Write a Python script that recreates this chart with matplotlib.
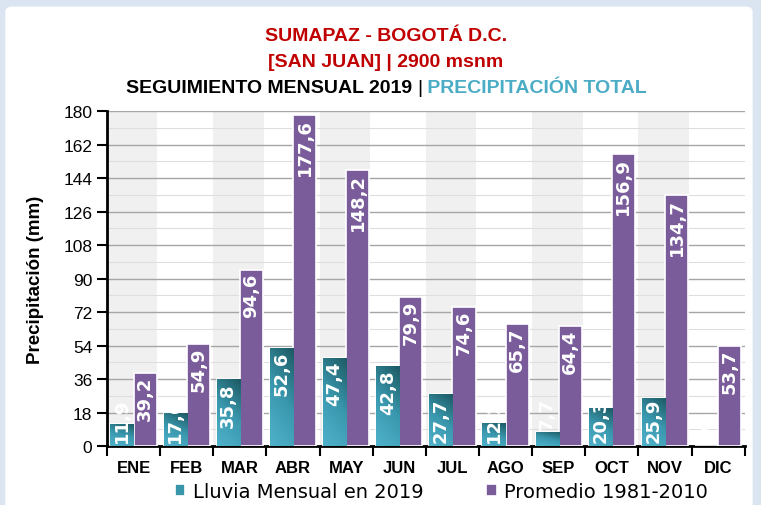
import matplotlib
matplotlib.use("Agg")
import matplotlib.pyplot as plt
import numpy as np
from matplotlib.patches import FancyBboxPatch
from matplotlib.colors import LinearSegmentedColormap

meses = ['ENE', 'FEB', 'MAR', 'ABR', 'MAY', 'JUN', 'JUL', 'AGO', 'SEP', 'OCT', 'NOV', 'DIC']
lluvia_2019 = [11.9, 17.6, 35.8, 52.6, 47.4, 42.8, 27.7, 12.2, 7.7, 20.3, 25.9, 0.0]
promedio = [39.2, 54.9, 94.6, 177.6, 148.2, 79.9, 74.6, 65.7, 64.4, 156.9, 134.7, 53.7]
yticks = [0, 18, 36, 54, 72, 90, 108, 126, 144, 162, 180]

TEAL = '#3a97ab'
PURPLE = '#7a5c9b'
TFONT = 'Liberation Sans'

fig = plt.figure(figsize=(7.61, 5.06), dpi=100)
fig.patch.set_facecolor('#dbe5f1')
fondo = FancyBboxPatch((0.007, -0.02), 0.982, 1.005, boxstyle='round,pad=0,rounding_size=0.01',
                       transform=fig.transFigure, facecolor='white', edgecolor='none', zorder=-5)
fig.patches.append(fondo)

ax = fig.add_axes([0.1406, 0.1166, 0.838, 0.662])
ax.set_facecolor('white')
x = np.arange(len(meses))
w = 0.435

# bandas grises alternas
for i in range(0, len(meses), 2):
    ax.axvspan(i - 0.5, i + 0.45, color='#f0f0f0', zorder=0, lw=0)

ax.set_yticks(yticks)
ax.set_yticks(np.arange(9, 180, 18), minor=True)
ax.tick_params(axis='y', which='minor', length=0)
ax.grid(axis='y', which='major', color='#a6a6a6', lw=1, zorder=1)
ax.grid(axis='y', which='minor', color='#dedede', lw=0.8, zorder=1)
ax.set_axisbelow(True)

b1 = ax.bar(x - w / 2, lluvia_2019, w, color=TEAL, edgecolor='white', lw=1.2, zorder=3,
            label='Lluvia Mensual en 2019')
b2 = ax.bar(x + w / 2, promedio, w, color=PURPLE, edgecolor='white', lw=1.2, zorder=3,
            label='Promedio 1981-2010')

# degradado diagonal en barras de lluvia (oscuro arriba-derecha)
cmap = LinearSegmentedColormap.from_list('teal', ['#1d5a64', '#3a98ae', '#4fb2ca'])
gy, gx = np.mgrid[0:1:64j, 0:1:16j]
grad = 0.75 * gy + 0.25 * (1 - gx)
for r in b1:
    if r.get_height() <= 0:
        continue
    x0, y0 = r.get_x(), r.get_y()
    im = ax.imshow(grad, cmap=cmap, aspect='auto', zorder=3.5,
                   extent=[x0, x0 + r.get_width(), y0, y0 + r.get_height()], origin='upper')
    im.set_clip_path(r)
ax.set_aspect('auto')
ax.set_xlim(-0.5, len(meses) - 0.5)
ax.set_ylim(0, 180)

def etiqueta(xc, v):
    txt = f'{v:.1f}'.replace('.', ',')
    y = max(v - 1.5, 26)
    ax.text(xc, y, txt, rotation=90, ha='center', va='top', color='white',
            fontsize=13, fontweight='bold', zorder=5, family='DejaVu Sans')

for i in range(len(meses)):
    etiqueta(x[i] - w / 2, lluvia_2019[i])
    etiqueta(x[i] + w / 2, promedio[i])

ax.set_xticks(np.arange(-0.5, len(meses), 1), minor=False)
ax.set_xticklabels([])
ax.set_xticks(x, minor=True)
ax.set_xticklabels(meses, minor=True, fontsize=12, fontweight='bold', family='Liberation Sans')
ax.tick_params(axis='x', which='major', length=7, width=1.5, direction='out')
ax.tick_params(axis='x', which='minor', length=0, pad=10)
ax.tick_params(axis='y', which='major', length=7, width=1.5, labelsize=12.5)
for lab in ax.get_yticklabels():
    lab.set_family('Liberation Sans')

for s in ['top', 'right']:
    ax.spines[s].set_visible(False)
for s in ['left', 'bottom']:
    ax.spines[s].set_linewidth(2)

ax.set_ylabel('Precipitación (mm)', fontsize=13.5, fontweight='bold', family='Liberation Sans', labelpad=14)

fig.legend([b1, b2], ['Lluvia Mensual en 2019', 'Promedio 1981-2010'], loc='lower center',
           bbox_to_anchor=(0.58, -0.026), ncol=2, frameon=False, handlelength=0.55, handleheight=0.55,
           columnspacing=3.2, handletextpad=0.4, prop={'family': 'DejaVu Sans', 'size': 14})

# titulo
fig.text(0.507, 0.927, 'SUMAPAZ - BOGOTÁ D.C.', ha='center', va='center', color='#c00000',
         fontsize=14, fontweight='bold', family=TFONT)
fig.text(0.507, 0.877, '[SAN JUAN] | 2900 msnm', ha='center', va='center', color='#c00000',
         fontsize=14, fontweight='bold', family=TFONT)
t1 = fig.text(0.548, 0.826, 'SEGUIMIENTO MENSUAL 2019 ', ha='right', va='center', color='black',
              fontsize=14, fontweight='bold', family=TFONT)
t2 = fig.text(0.548, 0.826, '|', ha='left', va='center', color='black',
              fontsize=14, family=TFONT)
fig.canvas.draw()
bb = t2.get_window_extent()
xr = fig.transFigure.inverted().transform((bb.x1, 0))[0]
fig.text(xr, 0.826, ' PRECIPITACIÓN TOTAL', ha='left', va='center', color='#4bacc6',
         fontsize=14, fontweight='bold', family=TFONT)

fig.savefig('out.png', dpi=100)
